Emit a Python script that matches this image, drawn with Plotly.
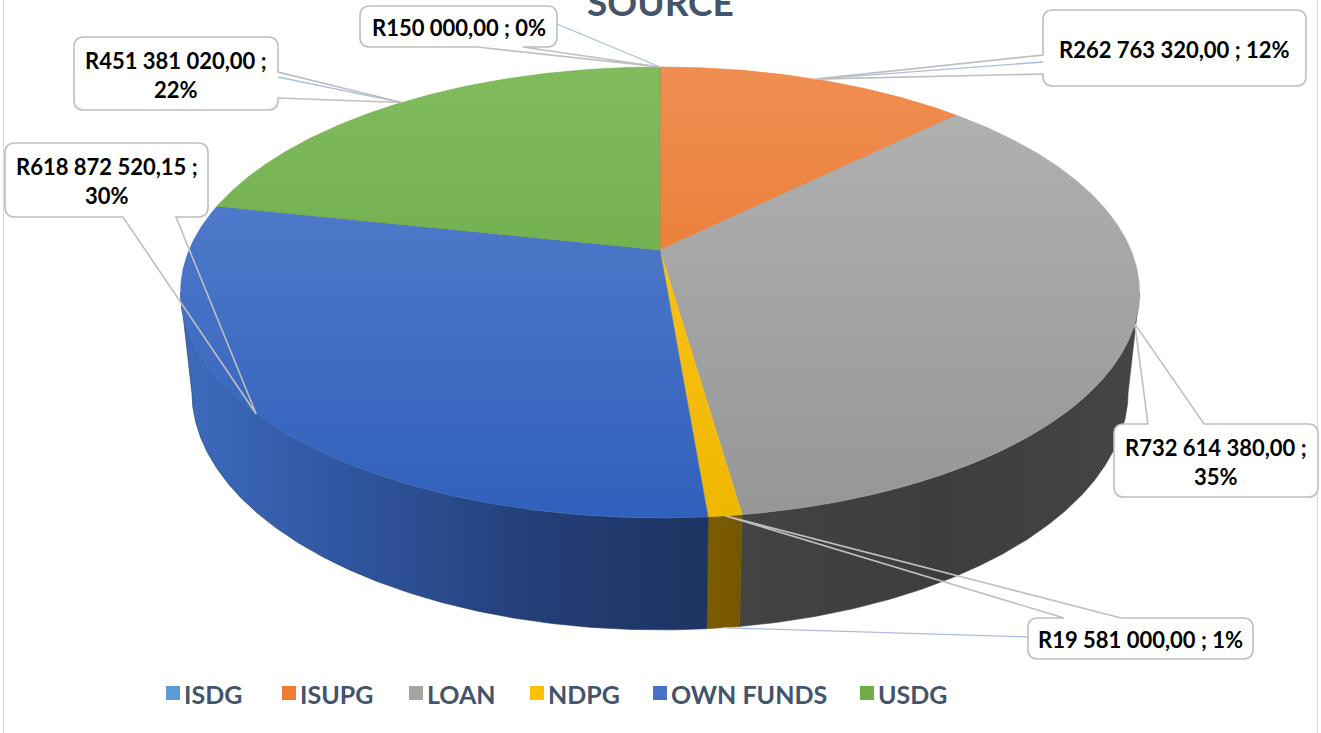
import numpy as np
import plotly.graph_objects as go

# ---- data -------------------------------------------------------------
categories = ["ISDG", "ISUPG", "LOAN", "NDPG", "OWN FUNDS", "USDG"]
amounts = [150000.00, 262763320.00, 732614380.00, 19581000.00, 618872520.15, 451381020.00]
percent_labels = ["0%", "12%", "35%", "1%", "30%", "22%"]

# ---- styling ----------------------------------------------------------
base_colors = ["#5B9BD5", "#ED7D31", "#A5A5A5", "#FFC000", "#4472C4", "#70AD47"]
top_shades = [
    ["#6eaadf", "#4a8ccb"],
    ["#f08e52", "#e66d1a"],
    ["#b3b3b3", "#969696"],
    ["#ffca28", "#efb700"],
    ["#5d84d0", "#2f60bb"],
    ["#80bc5e", "#62a03a"],
]
wall_shades = [
    ["#31608f", "#244a70"],
    ["#a65418", "#8c4512"],
    ["#434343", "#3d3d3d", "#454545"],
    ["#7c5d00", "#735600"],
    ["#3d6bbd", "#2f549e", "#243f78", "#1c3460"],
    ["#467a2a", "#3a6622"],
]
TEXT_DARK = "#44546A"
CALLOUT_LINE = "#bfbfbf"
LEADER_LINE = "#a9bedf"

W, H = 1321, 733

# ---- 3-D pie projection (perspective camera pitched over a disc) ----
CX, CY = 660.0, 250.0
FOCAL, DIST, TILT, DEPTH = 2218.0, 4.71, np.radians(27.5), 0.239


def project(theta, level=0.0, radius=1.0):
    """theta: clockwise angle from 12 o'clock; level 0 = top face, -DEPTH = base."""
    theta = np.asarray(theta, dtype=float)
    x = radius * np.sin(theta)
    z = radius * np.cos(theta)
    y = level
    d = DIST - y * np.sin(TILT) + z * np.cos(TILT)
    up = y * np.cos(TILT) + z * np.sin(TILT)
    return CX + FOCAL * x / d, CY - FOCAL * up / d


def arc(t0, t1, level=0.0, step=np.radians(0.4)):
    n = max(2, int(np.ceil((t1 - t0) / step)) + 1)
    return project(np.linspace(t0, t1, n), level)


total = float(np.sum(amounts))
shares = np.array(amounts) / total
edges = np.concatenate([[0.0], np.cumsum(shares)]) * 2 * np.pi
mids = (edges[:-1] + edges[1:]) / 2


def rand(v):
    s = f"{v:,.2f}"
    return "R" + s.replace(",", " ").replace(".", ",")


fig = go.Figure()

# side walls (only the part facing the viewer)
th_r = np.arccos(-np.cos(TILT) / DIST)
th_l = 2 * np.pi - th_r
for i in range(len(categories)):
    a = max(edges[i], th_r)
    b = min(edges[i + 1], th_l)
    if b <= a:
        continue
    tx, ty = arc(a, b, 0.0)
    bx, by = arc(a, b, -DEPTH)
    xs = np.concatenate([tx, bx[::-1], tx[:1]])
    ys = np.concatenate([ty, by[::-1], ty[:1]])
    shades = wall_shades[i]
    cs = [[k / (len(shades) - 1), c] for k, c in enumerate(shades)]
    fig.add_trace(go.Scatter(
        x=xs, y=ys, mode="lines", line=dict(width=0.6, color=shades[-1]),
        fill="toself",
        fillgradient=dict(type="horizontal", colorscale=cs,
                          start=float(xs.min()), stop=float(xs.max())),
        hoverinfo="skip", showlegend=False))

# top faces
y_top = float(project(0.0)[1])
y_bot = float(project(np.pi)[1])
for i in range(len(categories)):
    tx, ty = arc(edges[i], edges[i + 1], 0.0)
    xs = np.concatenate([[CX], tx, [CX]])
    ys = np.concatenate([[CY], ty, [CY]])
    fig.add_trace(go.Scatter(
        x=xs, y=ys, mode="lines", line=dict(width=0.6, color=base_colors[i]),
        fill="toself",
        fillgradient=dict(type="vertical",
                          colorscale=[[0, top_shades[i][0]], [1, top_shades[i][1]]],
                          start=y_top, stop=y_bot),
        hoverinfo="skip", showlegend=False))

# ---- data callouts ----------------------------------------------------
callouts = {
    "ISDG": dict(box=(360, 6, 557, 47), side="bottom", feet=(477, 523), leader=(557, 24), wrap=False),
    "ISUPG": dict(box=(1043, 10, 1306, 86), side="left", feet=(55, 74), leader=(1043, 62), wrap=False),
    "LOAN": dict(box=(1114, 424, 1318, 497), side="top", feet=(1148, 1204), leader=None, wrap=True),
    "NDPG": dict(box=(1028, 618, 1253, 659), side="top", feet=(1064, 1121), leader=(1028, 637), wrap=False,
                 leader_to_base=True),
    "OWN FUNDS": dict(box=(5, 143, 208, 217), side="bottom", feet=(123, 176), leader=None, wrap=True),
    "USDG": dict(box=(74, 37, 278, 110), side="right", feet=(72, 98), leader=(278, 77), wrap=True),
}


def rounded_rect(x0, y0, x1, y1, r):
    return (f"M{x0 + r},{y0} L{x1 - r},{y0} Q{x1},{y0} {x1},{y0 + r} "
            f"L{x1},{y1 - r} Q{x1},{y1} {x1 - r},{y1} L{x0 + r},{y1} "
            f"Q{x0},{y1} {x0},{y1 - r} L{x0},{y0 + r} Q{x0},{y0} {x0 + r},{y0} Z")


def callout_path(x0, y0, x1, y1, side, feet, tip, r):
    tx, ty = tip
    p = [f"M{x0 + r},{y0}"]
    if side == "top":
        a, b = sorted(feet)
        p += [f"L{a},{y0}", f"L{tx:.1f},{ty:.1f}", f"L{b},{y0}"]
    p += [f"L{x1 - r},{y0}", f"Q{x1},{y0} {x1},{y0 + r}"]
    if side == "right":
        a, b = sorted(feet)
        p += [f"L{x1},{a}", f"L{tx:.1f},{ty:.1f}", f"L{x1},{b}"]
    p += [f"L{x1},{y1 - r}", f"Q{x1},{y1} {x1 - r},{y1}"]
    if side == "bottom":
        a, b = sorted(feet, reverse=True)
        p += [f"L{a},{y1}", f"L{tx:.1f},{ty:.1f}", f"L{b},{y1}"]
    p += [f"L{x0 + r},{y1}", f"Q{x0},{y1} {x0},{y1 - r}"]
    if side == "left":
        a, b = sorted(feet, reverse=True)
        p += [f"L{x0},{a}", f"L{tx:.1f},{ty:.1f}", f"L{x0},{b}"]
    p += [f"L{x0},{y0 + r}", f"Q{x0},{y0} {x0 + r},{y0}", "Z"]
    return " ".join(p)


shapes = []
annotations = []
for i, cat in enumerate(categories):
    spec = callouts[cat]
    x0, y0, x1, y1 = spec["box"]
    tip = project(mids[i], 0.0)
    tip = (float(tip[0]), float(tip[1]))
    if spec["leader"] is not None:
        end = tip
        if spec.get("leader_to_base"):
            bp = project(mids[i], -DEPTH)
            end = (float(bp[0]), float(bp[1]))
        shapes.append(dict(type="line", xref="x", yref="y", layer="above",
                           x0=spec["leader"][0], y0=spec["leader"][1], x1=end[0], y1=end[1],
                           line=dict(color=LEADER_LINE, width=1.3)))
    shapes.append(dict(type="path", xref="x", yref="y", layer="above",
                       path=rounded_rect(x0, y0, x1, y1, 10),
                       fillcolor="white", line=dict(width=0)))
    shapes.append(dict(type="path", xref="x", yref="y", layer="above",
                       path=callout_path(x0, y0, x1, y1, spec["side"], spec["feet"], tip, 10),
                       fillcolor="rgba(0,0,0,0)", line=dict(color=CALLOUT_LINE, width=1.6)))
    sep = " ;<br>" if spec["wrap"] else " ; "
    annotations.append(dict(
        x=(x0 + x1) / 2, y=(y0 + y1) / 2 + 1, xref="x", yref="y",
        text=rand(amounts[i]) + sep + percent_labels[i], showarrow=False,
        xanchor="center", yanchor="middle", align="center",
        font=dict(family="Lato", size=22, color="#000000", weight="bold")))

# chart area border
shapes.append(dict(type="rect", xref="x", yref="y", layer="below",
                   x0=3.5, x1=1317.5, y0=-20, y1=H + 20,
                   line=dict(color="#d9d9d9", width=1), fillcolor="white"))

# title (partly above the visible page)
annotations.append(dict(x=660, y=26, xref="x", yref="y", text="SOURCE", showarrow=False,
                        xanchor="center", yanchor="bottom",
                        font=dict(family="Lato", size=37, color=TEXT_DARK, weight="bold")))

# legend row
legend_text_x = [182, 298, 425, 546, 669, 876]
legend_y = 693
fig.add_trace(go.Scatter(
    x=[x - 9 for x in legend_text_x], y=[legend_y] * len(categories), mode="markers",
    marker=dict(symbol="square", size=14, color=base_colors, line=dict(width=0)),
    hoverinfo="skip", showlegend=False))
for cat, lx in zip(categories, legend_text_x):
    annotations.append(dict(x=lx, y=legend_y + 1, xref="x", yref="y", text=cat, showarrow=False,
                            xanchor="left", yanchor="middle",
                            font=dict(family="Lato", size=25, color=TEXT_DARK, weight="bold")))

fig.update_layout(
    width=W, height=H, autosize=False,
    margin=dict(l=0, r=0, t=0, b=0),
    paper_bgcolor="white", plot_bgcolor="white",
    xaxis=dict(range=[0, W], visible=False, fixedrange=True),
    yaxis=dict(range=[H, 0], visible=False, fixedrange=True),
    shapes=shapes, annotations=annotations,
    showlegend=False, hovermode=False,
)

fig.write_html("out.html", config={"displayModeBar": False})
